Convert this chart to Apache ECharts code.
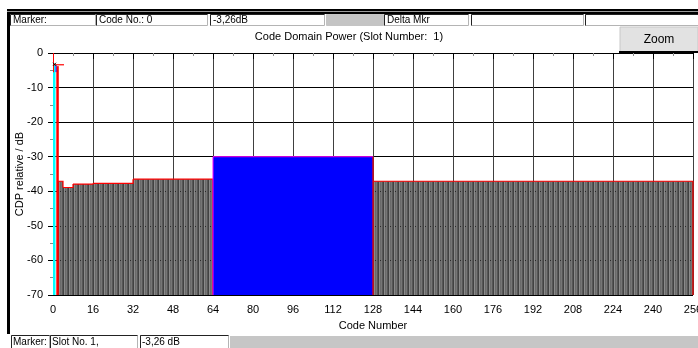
<!DOCTYPE html>
<html>
<head>
<meta charset="utf-8">
<title>Code Domain Power</title>
<script src="https://cdn.jsdelivr.net/npm/echarts@6/dist/echarts.min.js"></script>
<style>
  html, body { margin: 0; padding: 0; background: #fff; }
  #main { width: 698px; height: 348px; }
</style>
</head>
<body>
<div id="main"></div>
<script>
// channels: code range [start, end), level in dB, kind
const chStart = [0, 1, 2, 4, 8, 16, 32, 64, 128];
const chEnd   = [1, 2, 4, 8, 16, 32, 64, 128, 256];
const chLevel = [-3.26, -3.8, -37.1, -38.9, -37.9, -37.7, -36.5, -30, -37.1];
const chKind  = ['pilot', 'sel', 'off', 'off', 'off', 'off', 'off', 'on', 'off'];

const markerCode = 0;
const markerLevel = -3.26;

const headerTexts = ['Marker:', 'Code No.: 0', '-3,26dB', '', 'Delta Mkr', '', ''];
const footerTexts = ['Marker:', 'Slot No. 1,', '-3,26 dB'];

const FONT = 'Liberation Sans, Arial, sans-serif';
const Y_MIN = -70, Y_MAX = 0;

// per code bars of the inactive channels
let codeData = [];
for (let k = 0; k < chStart.length; k++) {
  if (chKind[k] !== 'off') continue;
  for (let c = chStart[k]; c < chEnd[k]; c++) codeData.push([c, chLevel[k]]);
}
// channel table for the outline / coloured channels
let chData = chStart.map((s, k) => {
  let next = (k + 1 < chStart.length && chKind[k + 1] === 'off' && chKind[k] === 'off') ? chLevel[k + 1] : Y_MIN;
  return [s, chEnd[k], chLevel[k], k, next];
});

const myChart = echarts.init(document.getElementById('main'));

// frame, header and footer fields
let graphics = [];
graphics.push({ type: 'rect', shape: { x: 7, y: 9, width: 691, height: 5 }, style: { fill: '#000' } });
graphics.push({ type: 'rect', shape: { x: 7, y: 11, width: 691, height: 1 }, style: { fill: '#9a9a9a' } });
graphics.push({ type: 'rect', shape: { x: 7, y: 13, width: 3, height: 321 }, style: { fill: '#000' } });
const headBoxes = [[10, 95], [96, 207], [210, 324], [326, 383], [384, 468], [471, 583], [585, 698]];
headBoxes.forEach((b, i) => {
  graphics.push({ type: 'rect', shape: { x: b[0] + 0.5, y: 14.5, width: b[1] - b[0], height: 11 },
    style: { fill: i === 3 ? '#c4c4c4' : '#fff', stroke: i === 3 ? '#c4c4c4' : '#b4b4b4', lineWidth: 1 } });
  if (i !== 3) {
    graphics.push({ type: 'polyline', shape: { points: [[b[0] + 0.5, 25.5], [b[0] + 0.5, 14.5], [b[1] + 0.5, 14.5]] },
      style: { stroke: '#222', lineWidth: 1, fill: null } });
  }
  if (headerTexts[i]) {
    graphics.push({ type: 'text', x: b[0] + 3, y: 20, style: { text: headerTexts[i], font: '10px ' + FONT, fill: '#000', verticalAlign: 'middle' } });
  }
});
const footBoxes = [[11, 49], [50, 137], [140, 228]];
footBoxes.forEach((b, i) => {
  graphics.push({ type: 'rect', shape: { x: b[0] + 0.5, y: 335.5, width: b[1] - b[0], height: 13 },
    style: { fill: '#fff', stroke: '#b4b4b4', lineWidth: 1 } });
  graphics.push({ type: 'polyline', shape: { points: [[b[0] + 0.5, 348], [b[0] + 0.5, 335.5], [b[1] + 0.5, 335.5]] },
    style: { stroke: '#222', lineWidth: 1, fill: null } });
  graphics.push({ type: 'text', x: b[0] + 2, y: 342, style: { text: footerTexts[i], font: '10px ' + FONT, fill: '#000', verticalAlign: 'middle' } });
});
graphics.push({ type: 'rect', shape: { x: 230, y: 336, width: 468, height: 12 }, style: { fill: '#c6c6c6' } });
// zoom button
graphics.push({ type: 'rect', shape: { x: 620, y: 27, width: 78, height: 25 }, style: { fill: '#e2e2e2', stroke: '#c8c8c8', lineWidth: 1 } });
graphics.push({ type: 'rect', shape: { x: 619, y: 51, width: 79, height: 2 }, style: { fill: '#000' } });
graphics.push({ type: 'text', x: 659, y: 40, style: { text: 'Zoom', font: '12px ' + FONT, fill: '#000', align: 'center', verticalAlign: 'middle' } });

let option = {
  backgroundColor: '#fff',
  animation: false,
  textStyle: { fontFamily: FONT },
  title: {
    text: 'Code Domain Power (Slot Number:  1)',
    left: 'center',
    top: 31,
    padding: 0,
    textStyle: { fontSize: 11, fontWeight: 'normal', color: '#000', fontFamily: FONT }
  },
  grid: { left: 53, right: 5, top: 53, bottom: 53, outerBoundsMode: 'none', containLabel: false },
  xAxis: {
    type: 'value',
    min: 0,
    max: 256,
    interval: 16,
    name: 'Code Number',
    nameLocation: 'middle',
    nameGap: 25,
    nameMoveOverlap: false,
    nameTextStyle: { fontSize: 11, color: '#000' },
    axisLine: { show: false },
    axisTick: { show: true, length: 6, lineStyle: { color: '#000' } },
    minorTick: { show: true, splitNumber: 2, length: 3, lineStyle: { color: '#8a8a8a' } },
    axisLabel: { fontSize: 11, color: '#000', margin: 9, hideOverlap: false },
    splitLine: { show: true, lineStyle: { color: '#404040', width: 1 } }
  },
  yAxis: {
    type: 'value',
    min: Y_MIN,
    max: Y_MAX,
    interval: 10,
    name: 'CDP relative / dB',
    nameLocation: 'middle',
    nameGap: 28,
    nameMoveOverlap: false,
    nameTextStyle: { fontSize: 11, color: '#000' },
    axisLine: { show: false },
    axisTick: { show: true, length: 5, lineStyle: { color: '#000' } },
    minorTick: { show: true, splitNumber: 2, length: 3, lineStyle: { color: '#8a8a8a' } },
    axisLabel: { fontSize: 11, color: '#000', margin: 10 },
    splitLine: { show: true, lineStyle: { color: '#000', width: 1 } }
  },
  graphic: graphics,
  series: [
    {
      // single codes of inactive channels, drawn as striped grey bars
      type: 'custom',
      name: 'codes',
      data: codeData,
      z: 3,
      renderItem: function (params, api) {
        const p0 = api.coord([api.value(0), api.value(1)]);
        const p1 = api.coord([api.value(0) + 1, Y_MIN]);
        const w = p1[0] - p0[0];
        return {
          type: 'group',
          children: [
            { type: 'rect', shape: { x: p0[0], y: p0[1], width: w, height: p1[1] - p0[1] }, style: { fill: '#383838' } },
            { type: 'rect', shape: { x: p0[0] + 0.9, y: p0[1], width: w - 1.6, height: p1[1] - p0[1] }, style: { fill: '#a0a0a0' } }
          ]
        };
      }
    },
    {
      // channels: coloured bars and red outline
      type: 'custom',
      name: 'channels',
      data: chData,
      z: 4,
      renderItem: function (params, api) {
        const s = api.value(0), e = api.value(1), lvl = api.value(2), k = api.value(3), nxt = api.value(4);
        const kind = chKind[k];
        const a = api.coord([s, lvl]);
        const b = api.coord([e, Y_MIN]);
        const ch = [];
        if (kind === 'off') {
          const c = api.coord([e, nxt]);
          ch.push({ type: 'polyline', shape: { points: [[a[0], a[1]], [b[0], a[1]], [b[0], c[1]]] },
            style: { stroke: '#ff0000', lineWidth: 1.2, fill: null } });
        } else if (kind === 'on') {
          ch.push({ type: 'rect', shape: { x: a[0], y: a[1], width: b[0] - a[0], height: b[1] - a[1] }, style: { fill: '#0000ff' } });
          ch.push({ type: 'polyline', shape: { points: [[a[0], b[1]], [a[0], a[1]], [b[0], a[1]]] },
            style: { stroke: '#ff00ff', lineWidth: 1, fill: null } });
          ch.push({ type: 'line', shape: { x1: b[0], y1: a[1], x2: b[0], y2: b[1] }, style: { stroke: '#ff0000', lineWidth: 1.2 } });
        } else if (kind === 'pilot') {
          ch.push({ type: 'rect', shape: { x: a[0], y: a[1], width: b[0] - a[0], height: b[1] - a[1] }, style: { fill: '#00ffff' } });
        } else {
          ch.push({ type: 'rect', shape: { x: a[0] + 0.8, y: a[1], width: b[0] - a[0], height: b[1] - a[1] }, style: { fill: '#ff0000' } });
          ch.push({ type: 'line', shape: { x1: a[0] + 0.5, y1: a[1] - 1, x2: a[0] + 0.5, y2: a[1] + 6 }, style: { stroke: '#0000ff', lineWidth: 1 } });
        }
        return { type: 'group', children: ch };
      }
    },
    {
      // marker
      type: 'custom',
      name: 'marker',
      data: [[markerCode, markerLevel]],
      z: 6,
      renderItem: function (params, api) {
        const p = api.coord([api.value(0), api.value(1)]);
        const top = api.coord([api.value(0), Y_MAX]);
        return {
          type: 'group',
          children: [
            { type: 'line', shape: { x1: p[0] + 0.5, y1: top[1], x2: p[0] + 0.5, y2: p[1] + 8 }, style: { stroke: '#ff0000', lineWidth: 1 } },
            { type: 'line', shape: { x1: p[0] + 1, y1: p[1] + 0.5, x2: p[0] + 11, y2: p[1] + 0.5 }, style: { stroke: '#ff0000', lineWidth: 1.2 } },
            { type: 'line', shape: { x1: p[0], y1: p[1] - 1.5, x2: p[0] + 3, y2: p[1] + 1.5 }, style: { stroke: '#000', lineWidth: 1 } },
            { type: 'line', shape: { x1: p[0], y1: p[1] + 1.5, x2: p[0] + 3, y2: p[1] - 1.5 }, style: { stroke: '#000', lineWidth: 1 } }
          ]
        };
      }
    }
  ]
};
myChart.setOption(option);
</script>
</body>
</html>
